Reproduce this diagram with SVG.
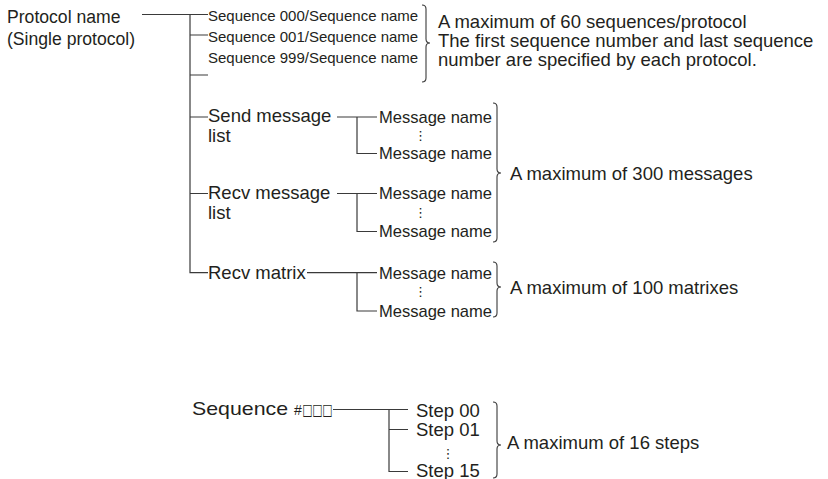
<svg xmlns="http://www.w3.org/2000/svg" width="828" height="479" viewBox="0 0 828 479">
<style>
text{font-family:"Liberation Sans",Arial,sans-serif;fill:#231f20}
.l{font-size:18.5px}
.p{font-size:17.6px}
.s{font-size:15px}
.m{font-size:17px}
.d{font-family:"DejaVu Sans",sans-serif;font-size:13px}
.c{fill:none;stroke:#3a3a3a;stroke-width:1.2}
.b{fill:none;stroke:#3a3a3a;stroke-width:1.1}
</style>
<rect width="828" height="479" fill="#fff"/>
<g id="connectors">
<path class="c" d="M142,14.5H208M190,14.5V272.7H208M190,35H208M190,75H208"/>
<path class="c" d="M190,117H208M337,117H377M357,117V153.5H377"/>
<path class="c" d="M190,193.5H208M337,193.5H377M357,193.5V231.5H377"/>
<path class="c" d="M307,272.7H377M357,272.7V311H377"/>
<path class="c" d="M333,409.5H408M389,409.5V471.5H408M389,429.5H408"/>
</g>
<g id="protocol">
<text class="p" x="7" y="23">Protocol name</text>
<text class="p" x="7" y="45">(Single protocol)</text>
</g>
<g id="sequences">
<text class="s" x="208" y="20.5">Sequence 000/Sequence name</text>
<text class="s" x="208" y="41.5">Sequence 001/Sequence name</text>
<text class="s" x="208" y="63">Sequence 999/Sequence name</text>
<path class="b" d="M422,5Q426,5 426,9V39Q426,43 430,43Q426,43 426,47V78Q426,82 422,82"/>
<text class="l" x="438" y="27.5">A maximum of 60 sequences/protocol</text>
<text class="l" x="438" y="46.5">The first sequence number and last sequence</text>
<text class="l" x="438" y="66">number are specified by each protocol.</text>
</g>
<g id="send">
<text class="l" x="208" y="122">Send message</text>
<text class="l" x="208" y="142">list</text>
<text class="m" x="379" y="122.5" textLength="113" lengthAdjust="spacingAndGlyphs">Message name</text>
<text class="d" x="414" y="140">⋮</text>
<text class="m" x="379" y="159" textLength="113" lengthAdjust="spacingAndGlyphs">Message name</text>
</g>
<g id="recv">
<text class="l" x="208" y="199">Recv message</text>
<text class="l" x="208" y="219">list</text>
<text class="m" x="379" y="199" textLength="113" lengthAdjust="spacingAndGlyphs">Message name</text>
<text class="d" x="414" y="217">⋮</text>
<text class="m" x="379" y="237" textLength="113" lengthAdjust="spacingAndGlyphs">Message name</text>
</g>
<g id="messages-note">
<path class="b" d="M493,103Q497,103 497,107V169Q497,173 501,173Q497,173 497,177V238Q497,242 493,242"/>
<text class="l" x="510" y="180">A maximum of 300 messages</text>
</g>
<g id="matrix">
<text class="l" x="208" y="278.5">Recv matrix</text>
<text class="m" x="379" y="278.5" textLength="113" lengthAdjust="spacingAndGlyphs">Message name</text>
<text class="d" x="414" y="296">⋮</text>
<text class="m" x="379" y="316.5" textLength="113" lengthAdjust="spacingAndGlyphs">Message name</text>
<path class="b" d="M493,262Q497,262 497,266V283Q497,287 501,287Q497,287 497,291V313Q497,317 493,317"/>
<text class="l" x="510" y="294">A maximum of 100 matrixes</text>
</g>
<g id="sequence-steps">
<text class="l" x="192" y="415"><tspan textLength="96" lengthAdjust="spacingAndGlyphs">Sequence</tspan><tspan x="294" font-size="14">#</tspan><tspan x="302.5" font-family="DejaVu Sans, sans-serif" font-size="16" textLength="30" lengthAdjust="spacingAndGlyphs">□□□</tspan></text>
<text class="l" x="416" y="416.5">Step 00</text>
<text class="l" x="416" y="436">Step 01</text>
<text class="d" x="441.5" y="457.5" font-size="11.5">⋮</text>
<text class="l" x="416" y="476.5">Step 15</text>
<path class="b" d="M493,402Q497,402 497,406V441Q497,445 501,445Q497,445 497,449V474Q497,478 493,478"/>
<text class="l" x="507" y="449">A maximum of 16 steps</text>
</g>
</svg>
